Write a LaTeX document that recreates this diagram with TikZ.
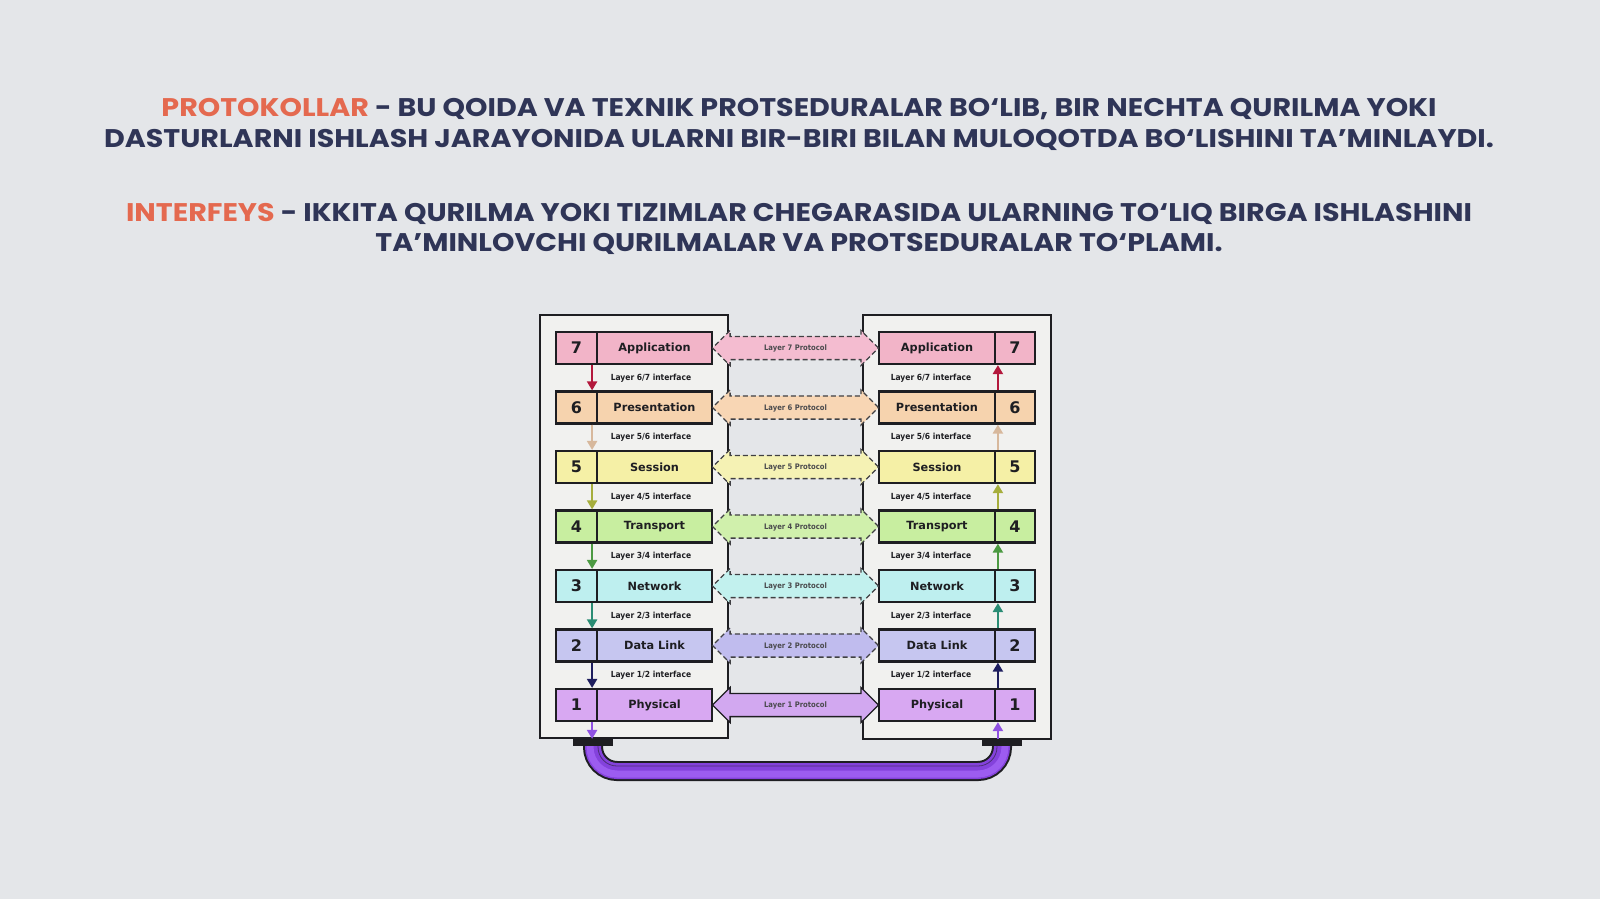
\documentclass[tikz,border=0pt]{standalone}
\usepackage{fontspec}
\setmainfont{Poppins}
\newfontfamily\headfont[FakeStretch=1.12]{Poppins}
\newfontfamily\lyr{DejaVu Sans}
\newfontfamily\lyrc{DejaVu Sans Condensed}
\usetikzlibrary{shapes.arrows,arrows.meta,calc}
\definecolor{bg}{HTML}{E4E6E9}
\definecolor{navy}{HTML}{2F3557}
\definecolor{hl}{HTML}{E4694F}
\definecolor{boxbg}{HTML}{F1F1EF}
\definecolor{edge}{HTML}{1E1E22}
\definecolor{f7}{HTML}{F2B4C8}\definecolor{a7}{HTML}{B3183C}\definecolor{p7}{HTML}{F4BCD0}
\definecolor{f6}{HTML}{F6D3AE}\definecolor{a6}{HTML}{D7B89C}\definecolor{p6}{HTML}{F8D6B4}
\definecolor{f5}{HTML}{F5F0A6}\definecolor{a5}{HTML}{A6AE3C}\definecolor{p5}{HTML}{F5F2B4}
\definecolor{f4}{HTML}{C8EEA0}\definecolor{a4}{HTML}{4C9A42}\definecolor{p4}{HTML}{D0F0AC}
\definecolor{f3}{HTML}{BEEFEF}\definecolor{a3}{HTML}{2A8C74}\definecolor{p3}{HTML}{C2F1EE}
\definecolor{f2}{HTML}{C6C6F0}\definecolor{a2}{HTML}{1E1E5E}\definecolor{p2}{HTML}{C0BCEE}
\definecolor{f1}{HTML}{D8A8F2}\definecolor{a1}{HTML}{9052E2}\definecolor{p1}{HTML}{D2A8F0}
\definecolor{tubec}{HTML}{8442DC}\definecolor{tubel}{HTML}{9C5CF0}
\tikzset{
  head/.style={font=\headfont\fontsize{25.5}{28}\selectfont\bfseries, text=navy, inner sep=0pt, anchor=center},
  outerbox/.style={draw=edge, line width=1.8pt, fill=boxbg, inner sep=0pt},
  numbox/.style={draw=edge, line width=2.2pt, minimum width=41pt, minimum height=32pt, inner sep=0pt, font=\lyr\bfseries\fontsize{16}{16}\selectfont, text=edge},
  namebox/.style={draw=edge, line width=2.2pt, minimum width=115pt, minimum height=32pt, inner sep=0pt, font=\lyr\bfseries\fontsize{11.3}{12}\selectfont, text=edge},
  iflabel/.style={font=\lyrc\bfseries\fontsize{8.4}{9}\selectfont, text=edge, inner sep=0pt},
  proto/.style={double arrow, double arrow head extend=6pt, text height=5.5pt, text depth=0pt, inner ysep=8.2pt, inner xsep=0pt, minimum height=166pt, draw=edge!85, line width=1.3pt, dash pattern=on 5pt off 3pt, font=\lyrc\bfseries\fontsize{7.6}{8}\selectfont, text=edge!80},
  larr/.style={line width=2.4pt, -{Triangle[length=9pt,width=10pt]}},
  conn/.style={fill=edge, minimum width=40pt, minimum height=7pt, inner sep=0pt}
}
\begin{document}
\begin{tikzpicture}[x=1pt,y=-1pt]
\useasboundingbox (0,0) rectangle (1600,899);
\fill[bg] (0,0) rectangle (1600,899);
% headings
\node[head] (t1) at (799,109) {\textcolor{hl}{PROTOKOLLAR} - BU QOIDA VA TEXNIK PROTSEDURALAR BO‘LIB, BIR NECHTA QURILMA YOKI};
\node[head] (t2) at (799,140) {DASTURLARNI ISHLASH JARAYONIDA ULARNI BIR-BIRI BILAN MULOQOTDA BO‘LISHINI TA’MINLAYDI.};
\node[head] (t3) at (799,214) {\textcolor{hl}{INTERFEYS} - IKKITA QURILMA YOKI TIZIMLAR CHEGARASIDA ULARNING TO‘LIQ BIRGA ISHLASHINI};
\node[head] (t4) at (799,244) {TA’MINLOVCHI QURILMALAR VA PROTSEDURALAR TO‘PLAMI.};
% outer boxes
\node[outerbox, minimum width=188pt, minimum height=423pt] (LB) at (634,526.5) {};
\node[outerbox, minimum width=188pt, minimum height=424pt] (RB) at (957,527) {};
% layers
\foreach \i/\nm in {7/Application,6/Presentation,5/Session,4/Transport,3/Network,2/Data Link,1/Physical}{
  \pgfmathsetmacro\yy{348+59.5*(7-\i)}
  \node[numbox, fill=f\i] (LN\i) at (576.5,\yy) {\i};
  \node[namebox, fill=f\i] (LM\i) at (654.5,\yy) {\nm};
  \node[namebox, fill=f\i, minimum width=116pt] (RM\i) at (937,\yy) {\nm};
  \node[numbox, fill=f\i, minimum width=40pt] (RN\i) at (1015,\yy) {\i};
}
% protocol arrows
\foreach \i in {7,6,5,4,3,2}{
  \node[proto, fill=p\i] (P\i) at ($(LM\i.east)!0.5!(RM\i.west)$) {Layer \i\ Protocol};
}
\node[proto, fill=p1, solid, draw=edge] (P1) at ($(LM1.east)!0.5!(RM1.west)$) {Layer 1 Protocol};
% interfaces and arrows
\foreach \i/\j in {6/7,5/6,4/5,3/4,2/3,1/2}{
  \pgfmathsetmacro\yl{378+59.5*(7-\j)}
  \node[iflabel] (LI\i) at (651,\yl) {Layer \i/\j\ interface};
  \node[iflabel] (RI\i) at (931,\yl) {Layer \i/\j\ interface};
  \draw[larr, draw=a\j, fill=a\j] ([xshift=-6pt]LN\j.south east) -- ([xshift=-6pt]LN\i.north east);
  \draw[larr, draw=a\j, fill=a\j] ([xshift=4pt]RN\i.north west) -- ([xshift=4pt]RN\j.south west);
}
% bottom connectors and cable
\node[conn] (CL) at (593,742.5) {};
\node[conn] (CR) at (1002,742.5) {};
\draw[larr, draw=a1, fill=a1] ([xshift=-6pt]LN1.south east) -- ([xshift=-6pt]LN1.south east |- LB.south);
\draw[larr, draw=a1, fill=a1] ([xshift=4pt]RN1.south west |- RB.south) -- ([xshift=4pt]RN1.south west);
\coordinate (cb) at (0,771);
\coordinate (cbo) at (0,774);
\coordinate (cbi) at (0,766);
\draw[edge, line width=20pt, rounded corners=24pt] (CL.south) -- (CL.south |- cb) -- (CR.south |- cb) -- (CR.south);
\draw[tubec, line width=16pt, rounded corners=24pt] (CL.south) -- (CL.south |- cb) -- (CR.south |- cb) -- (CR.south);
\draw[tubel, line width=7pt, rounded corners=27pt] ([xshift=-3pt]CL.south) -- ([xshift=-3pt]CL.south |- cbo) -- ([xshift=3pt]CR.south |- cbo) -- ([xshift=3pt]CR.south);
\draw[edge!55!tubec, line width=0.8pt, rounded corners=19pt] ([xshift=5pt]CL.south) -- ([xshift=5pt]CL.south |- cbi) -- ([xshift=-5pt]CR.south |- cbi) -- ([xshift=-5pt]CR.south);
\node[conn] at (CL) {};
\node[conn] at (CR) {};
\end{tikzpicture}
\end{document}
